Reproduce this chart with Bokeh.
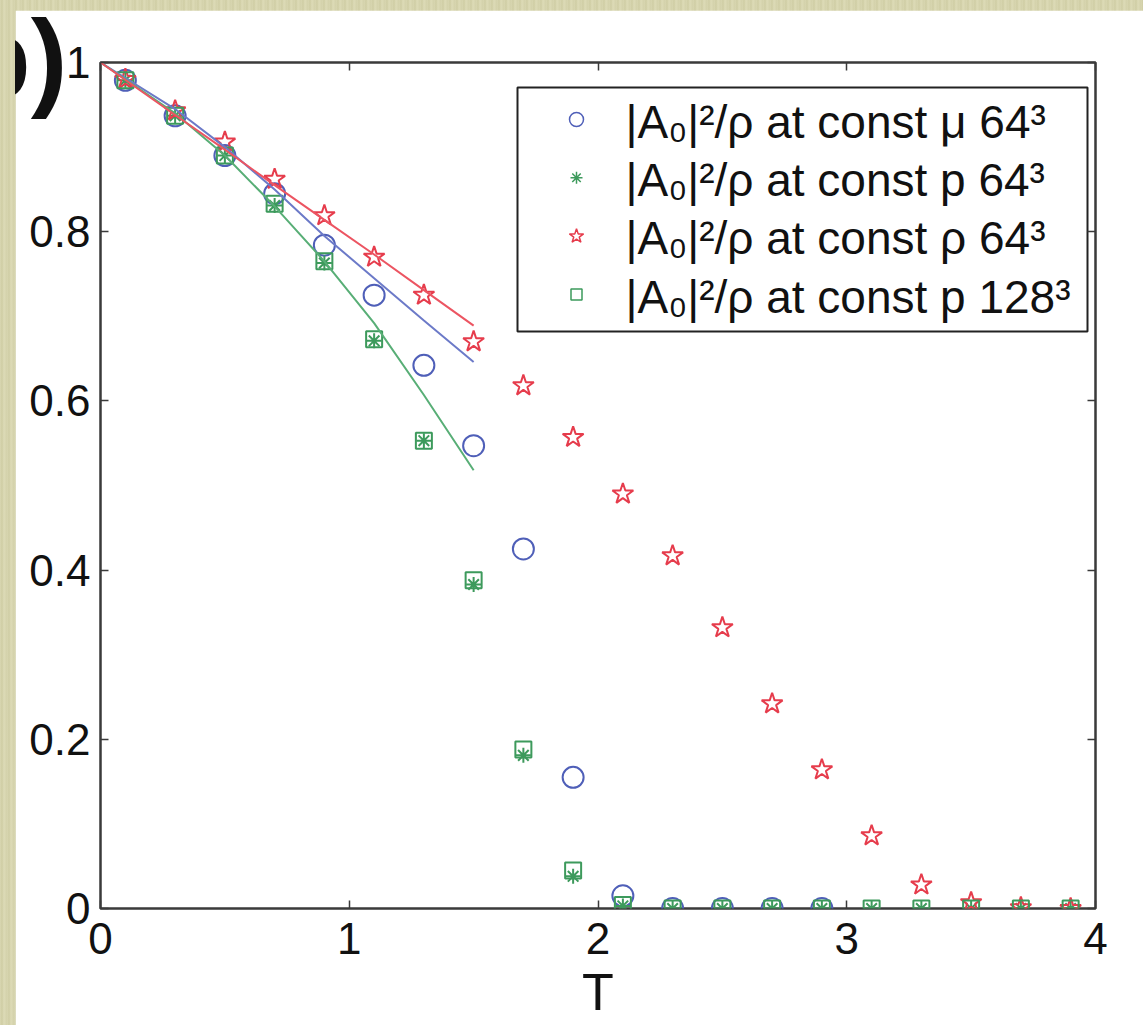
from bokeh.plotting import figure
from bokeh.models import (FixedTicker, NumeralTickFormatter, LinearAxis, Title,
                          BoxAnnotation, Range1d, CustomJSTickFormatter)
from bokeh.layouts import column
from bokeh.embed import file_html
from bokeh.resources import INLINE
from bokeh.core.properties import value

# ---- data -----------------------------------------------------------------
T = [0.1, 0.3, 0.5, 0.7, 0.9, 1.1, 1.3, 1.5, 1.7, 1.9,
     2.1, 2.3, 2.5, 2.7, 2.9, 3.1, 3.3, 3.5, 3.7, 3.9]
T_mu = T[:15]

frac_mu_64 = [0.979, 0.937, 0.890, 0.845, 0.784, 0.725, 0.642, 0.547, 0.425, 0.155,
              0.015, 0.0, 0.0, 0.0, 0.0]
frac_p_64 = [0.979, 0.937, 0.890, 0.831, 0.763, 0.671, 0.553, 0.383, 0.181, 0.038,
             0.003, 0.0, 0.0, 0.0, 0.0, 0.0, 0.0, 0.0, 0.0, 0.0]
frac_rho_64 = [0.980, 0.943, 0.906, 0.862, 0.819, 0.770, 0.725, 0.670, 0.618, 0.557,
               0.490, 0.417, 0.332, 0.242, 0.164, 0.086, 0.028, 0.007, 0.001, 0.0]
frac_p_128 = [0.979, 0.937, 0.890, 0.833, 0.765, 0.673, 0.553, 0.388, 0.188, 0.045,
              0.004, 0.0, 0.0, 0.0, 0.0, 0.0, 0.0, 0.0, 0.0, 0.0]

# low-temperature fits
T_fit = [0.0, 0.3, 0.5, 0.7, 0.9, 1.1, 1.3, 1.5]
fit_mu = [1.0, 0.945, 0.900, 0.850, 0.795, 0.745, 0.695, 0.646]
fit_p = [1.0, 0.940, 0.890, 0.830, 0.765, 0.692, 0.607, 0.518]
fit_rho = [1.0, 0.938, 0.897, 0.855, 0.814, 0.773, 0.731, 0.689]

x_ticks = [0, 1, 2, 3, 4]
y_ticks = [0, 0.2, 0.4, 0.6, 0.8, 1]

legend_labels = [
    "|A\u2080|\u00b2/\u03c1 at const \u03bc 64\u00b3",
    "|A\u2080|\u00b2/\u03c1 at const p 64\u00b3",
    "|A\u2080|\u00b2/\u03c1 at const \u03c1 64\u00b3",
    "|A\u2080|\u00b2/\u03c1 at const p 128\u00b3",
]

# ---- styling --------------------------------------------------------------
BLUE, BLUE_LINE = "#4f5fb8", "#6c7ac8"
GREEN, GREEN_LINE = "#3d9a5c", "#58ae76"
RED, RED_LINE = "#e63c4c", "#ec5562"
FRAME = "#3a3a3a"
INK = "#111111"
FONT = "Liberation Sans"

W, H = 1128, 1015
B_LEFT, B_RIGHT, B_TOP, B_BOTTOM = 85, 48, 52, 117
X0, X1, Y0, Y1 = 0, 4, 0, 1
fw, fh = W - B_LEFT - B_RIGHT, H - B_TOP - B_BOTTOM


def to_data(px, py):
    """Canvas pixel position -> data coordinates of the frame."""
    return (X0 + (px - B_LEFT) / fw * (X1 - X0),
            Y0 + (B_TOP + fh - py) / fh * (Y1 - Y0))


p = figure(width=W, height=H, output_backend="svg", toolbar_location=None,
           x_range=Range1d(X0, X1), y_range=Range1d(Y0, Y1),
           min_border_left=B_LEFT, min_border_right=B_RIGHT,
           min_border_top=B_TOP, min_border_bottom=B_BOTTOM,
           background_fill_color="white", border_fill_color="white",
           outline_line_color=FRAME, outline_line_width=2.5)
p.grid.visible = False

for ax in (p.xaxis[0], p.yaxis[0]):
    ax.axis_line_color = None
    ax.major_tick_in = 8
    ax.major_tick_out = 0
    ax.minor_tick_line_color = None
    ax.major_tick_line_color = FRAME
    ax.major_tick_line_width = 1.5
    ax.major_label_text_font = FONT
    ax.major_label_text_font_size = "44px"
    ax.major_label_text_color = INK

p.xaxis.ticker = FixedTicker(ticks=x_ticks)
p.yaxis.ticker = FixedTicker(ticks=y_ticks)
p.xaxis.formatter = NumeralTickFormatter(format="0")
p.yaxis.formatter = NumeralTickFormatter(format="0.[0]")
p.xaxis.major_label_standoff = 14
p.yaxis.major_label_standoff = 10
p.xaxis.axis_label = "T"
p.xaxis.axis_label_text_font = FONT
p.xaxis.axis_label_text_font_style = "normal"
p.xaxis.axis_label_text_font_size = "52px"
p.xaxis.axis_label_text_color = INK
p.xaxis.axis_label_standoff = 6

# box ticks on the top and right edges (no labels there)
blank = CustomJSTickFormatter(code="return ''")
top = LinearAxis(ticker=FixedTicker(ticks=x_ticks), formatter=blank,
                 axis_line_color=None, major_tick_in=8, major_tick_out=0,
                 minor_tick_line_color=None, major_tick_line_color=FRAME,
                 major_tick_line_width=1.5, major_label_standoff=0)
right = LinearAxis(ticker=FixedTicker(ticks=y_ticks), formatter=blank,
                   axis_line_color=None, major_tick_in=8, major_tick_out=0,
                   minor_tick_line_color=None, major_tick_line_color=FRAME,
                   major_tick_line_width=1.5, major_label_standoff=0)
p.add_layout(top, "above")
p.add_layout(right, "right")

# ---- data marks -----------------------------------------------------------
p.scatter(T_mu, frac_mu_64, marker="circle", size=21, fill_color=None,
          line_color=BLUE, line_width=2)
p.scatter(T, frac_p_64, marker="asterisk", size=15, line_color=GREEN, line_width=2)
p.scatter(T, frac_rho_64, marker="star", size=22, fill_color=None,
          line_color=RED, line_width=2)
p.scatter(T, frac_p_128, marker="square", size=16, fill_color=None,
          line_color=GREEN, line_width=2)

p.line(T_fit, fit_mu, line_color=BLUE_LINE, line_width=2)
p.line(T_fit, fit_p, line_color=GREEN_LINE, line_width=2)
p.line(T_fit, fit_rho, line_color=RED_LINE, line_width=2)

# ---- legend ---------------------------------------------------------------
lx0, ly0 = to_data(517 - 15, 87 - 10)
lx1, ly1 = to_data(1087 - 15, 331 - 10)
p.add_layout(BoxAnnotation(left=lx0, right=lx1, top=ly0, bottom=ly1,
                           fill_color="white", fill_alpha=1.0,
                           line_color="#222222", line_alpha=1.0, line_width=2,
                           level="underlay"))

row_centre = [119.0, 177.3, 235.7, 294.0]
marker_x, _ = to_data(576 - 15, 0)
text_x, _ = to_data(625 - 15, 0)
key_y = [to_data(0, c - 10)[1] for c in row_centre]
base_y = [to_data(0, c + 2 - 10)[1] for c in row_centre]

key_styles = [
    dict(marker="circle", size=14, fill_color=None, line_color=BLUE, line_width=1.5),
    dict(marker="asterisk", size=12, line_color=GREEN, line_width=1.5),
    dict(marker="star", size=15, fill_color=None, line_color=RED, line_width=1.5),
    dict(marker="square", size=11, fill_color=None, line_color=GREEN, line_width=1.5),
]
for yk, st in zip(key_y, key_styles):
    p.scatter([marker_x], [yk], **st)

p.text(x=[text_x] * 4, y=base_y, text=legend_labels,
       text_font=value(FONT), text_font_size="46px", text_color=INK,
       text_baseline="alphabetic", text_align="left")

# ---- panel tag: a title pulled down beside the frame ----------------------
tag = Title(text="b)", text_font=FONT, text_font_size="110px",
            text_font_style="bold", text_color=INK,
            align="left", vertical_align="bottom",
            offset=-137, standoff=-112)
p.add_layout(tag, "above")

page = column(p, styles={
    "padding": "10px 0 0 15px",
    "background": "repeating-linear-gradient(90deg, #d9d7b2 0px, #cfcda4 2px, "
                  "#dddbb7 4px, #d3d1aa 7px)",
})

open("out.html", "w").write(file_html(page, INLINE))
